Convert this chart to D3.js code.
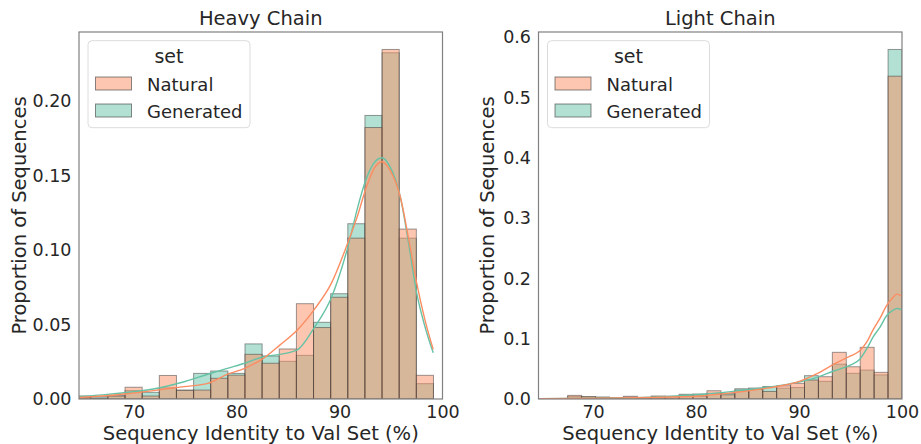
<!DOCTYPE html>
<html>
<head>
<meta charset="utf-8">
<script src="https://cdn.jsdelivr.net/npm/d3@7"></script>
<style>
  body { margin: 0; background: #fff; }
  svg { display: block; font-family: "DejaVu Sans", sans-serif; }
</style>
</head>
<body>
<svg id="chart" width="921" height="444"></svg>
<script>
// ---- data -------------------------------------------------------------
const setNames = ["Natural", "Generated"];
const setColors = { Natural: "#fc8d62", Generated: "#66c2a5" };

const xTicks = [70, 80, 90, 100];
const heavyYTicks = [0, 0.05, 0.10, 0.15, 0.20];
const lightYTicks = [0, 0.1, 0.2, 0.3, 0.4, 0.5, 0.6];

// heavy chain histogram (proportion per bin)
const heavyBinStart = 64.18;
const heavyBinWidth = 1.664;
const heavyNatural = [0.0010, 0.0006, 0.0020, 0.0079, 0.0020, 0.0158, 0.0058, 0.0060, 0.0139, 0.0160, 0.0300,
                      0.0240, 0.0336, 0.0640, 0.0480, 0.0683, 0.1080, 0.1823, 0.2347, 0.1141, 0.0159];
const heavyGenerated = [0.0020, 0.0016, 0.0022, 0.0056, 0.0045, 0.0075, 0.0060, 0.0172, 0.0188, 0.0172, 0.0370,
                        0.0289, 0.0253, 0.0293, 0.0515, 0.0707, 0.1177, 0.1904, 0.2325, 0.1080, 0.0103];

// heavy chain density curves
const heavyKdeX = [64.2, 67.0, 69.1, 72.3, 74.9, 77.2, 79.1, 80.8, 82.6, 84.2, 85.9, 87.5,
                   89.2, 90.9, 91.7, 92.5, 93.3, 94.1, 94.9, 95.9, 96.7, 97.5, 98.3, 99.1];
const heavyKdeNatural = [0.0008, 0.0020, 0.0034, 0.0060, 0.0083, 0.0105, 0.0166, 0.0206, 0.0273, 0.0362, 0.0463, 0.0597,
                         0.0776, 0.1067, 0.1220, 0.1400, 0.1540, 0.1593, 0.1537, 0.1358, 0.1080, 0.0776, 0.0530, 0.0333];
const heavyKdeGenerated = [0.0015, 0.0028, 0.0042, 0.0072, 0.0116, 0.0166, 0.0206, 0.0240, 0.0284, 0.0300, 0.0330, 0.0475,
                           0.0680, 0.1045, 0.1270, 0.1460, 0.1580, 0.1620, 0.1560, 0.1358, 0.1050, 0.0709, 0.0485, 0.0310];

// light chain histogram (proportion per bin)
const lightBinStart = 64.83;
const lightBinWidth = 1.3527;
const lightNatural = [0.0005, 0.0005, 0.0060, 0.0040, 0.0030, 0.0017, 0.0045, 0.0022, 0.0040, 0.0040, 0.0060, 0.0050, 0.0137,
                      0.0070, 0.0147, 0.0160, 0.0125, 0.0220, 0.0260, 0.0315, 0.0370, 0.0774, 0.0535, 0.0857, 0.0442, 0.5354];
const lightGenerated = [0.0002, 0.0005, 0.0040, 0.0035, 0.0030, 0.0017, 0.0030, 0.0022, 0.0050, 0.0045, 0.0078, 0.0083, 0.0094,
                        0.0094, 0.0170, 0.0182, 0.0207, 0.0180, 0.0190, 0.0387, 0.0293, 0.0578, 0.0426, 0.0480, 0.0400, 0.5797];

// light chain density curves
const lightKdeX = [64.85, 70.67, 75.5, 80.4, 83.6, 86.9, 90.1, 91.75, 93.3, 94.95, 95.9, 96.6, 97.2, 97.9, 98.5, 99.1, 99.5, 100];
const lightKdeNatural = [0.0005, 0.0015, 0.0025, 0.0050, 0.0105, 0.0180, 0.0295, 0.0420, 0.0570, 0.0710, 0.0800, 0.0950,
                         0.1150, 0.1350, 0.1550, 0.1680, 0.1740, 0.1700];
const lightKdeGenerated = [0.0003, 0.0015, 0.0030, 0.0075, 0.0127, 0.0194, 0.0285, 0.0360, 0.0460, 0.0560, 0.0660, 0.0840,
                           0.1030, 0.1200, 0.1380, 0.1470, 0.1500, 0.1480];

const xLimits = [64.7, 100];

// ---- drawing ----------------------------------------------------------
const svg = d3.select("#chart");
const textColor = "#262626";

const panels = [
  {
    title: "Heavy Chain", left: 79, right: 442.5, yTicks: heavyYTicks, yFmt: ".2f",
    binStart: heavyBinStart, binWidth: heavyBinWidth,
    hist: { Natural: heavyNatural, Generated: heavyGenerated },
    kdeX: heavyKdeX, kde: { Natural: heavyKdeNatural, Generated: heavyKdeGenerated }
  },
  {
    title: "Light Chain", left: 538.5, right: 902, yTicks: lightYTicks, yFmt: ".1f",
    binStart: lightBinStart, binWidth: lightBinWidth,
    hist: { Natural: lightNatural, Generated: lightGenerated },
    kdeX: lightKdeX, kde: { Natural: lightKdeNatural, Generated: lightKdeGenerated }
  }
];

const plotTop = 32, plotBottom = 399;

panels.forEach((p, pi) => {
  const g = svg.append("g");
  const maxBar = d3.max([...p.hist.Natural, ...p.hist.Generated]);
  const x = d3.scaleLinear().domain(xLimits).range([p.left, p.right]);
  const y = d3.scaleLinear().domain([0, maxBar * 1.05]).range([plotBottom, plotTop]);

  const clipId = "clip" + pi;
  svg.append("clipPath").attr("id", clipId)
    .append("rect").attr("x", p.left).attr("y", plotTop)
    .attr("width", p.right - p.left).attr("height", plotBottom - plotTop);

  const plot = g.append("g").attr("clip-path", `url(#${clipId})`);

  // bars: Generated underneath, Natural layered on top
  ["Generated", "Natural"].forEach(name => {
    plot.append("g").selectAll("rect")
      .data(p.hist[name])
      .join("rect")
      .attr("x", (d, i) => x(p.binStart + i * p.binWidth))
      .attr("width", (d, i) => x(p.binStart + (i + 1) * p.binWidth) - x(p.binStart + i * p.binWidth))
      .attr("y", d => y(d))
      .attr("height", d => y(0) - y(d))
      .attr("fill", setColors[name])
      .attr("fill-opacity", 0.5)
      .attr("stroke", "#3a3a3a")
      .attr("stroke-opacity", 0.5)
      .attr("stroke-width", 1);
  });

  // density curves
  const line = d3.line()
    .x(d => x(d[0]))
    .y(d => y(d[1]))
    .curve(d3.curveMonotoneX);
  ["Generated", "Natural"].forEach(name => {
    plot.append("path")
      .datum(p.kdeX.map((v, i) => [v, p.kde[name][i]]))
      .attr("d", line)
      .attr("fill", "none")
      .attr("stroke", setColors[name])
      .attr("stroke-width", 1.4);
  });

  // frame
  g.append("rect")
    .attr("x", p.left).attr("y", plotTop)
    .attr("width", p.right - p.left).attr("height", plotBottom - plotTop)
    .attr("fill", "none").attr("stroke", "#808080").attr("stroke-width", 1.2);

  // axes
  const xAxis = g.append("g")
    .attr("transform", `translate(0,${plotBottom})`)
    .call(d3.axisBottom(x).tickValues(xTicks).tickSize(0).tickPadding(7).tickFormat(d3.format("d")));
  xAxis.select(".domain").remove();
  xAxis.selectAll("text").attr("font-size", 17.5).attr("fill", textColor)
    .attr("font-family", "DejaVu Sans, sans-serif");

  const yAxis = g.append("g")
    .attr("transform", `translate(${p.left},0)`)
    .call(d3.axisLeft(y).tickValues(p.yTicks).tickSize(0).tickPadding(7.5).tickFormat(d3.format(p.yFmt)));
  yAxis.select(".domain").remove();
  yAxis.selectAll("text").attr("font-size", 17.5).attr("fill", textColor)
    .attr("font-family", "DejaVu Sans, sans-serif");

  // labels
  const cx = (p.left + p.right) / 2;
  g.append("text")
    .attr("x", cx).attr("y", 25)
    .attr("text-anchor", "middle").attr("font-size", 19.5).attr("fill", textColor)
    .text(p.title);
  g.append("text")
    .attr("x", cx).attr("y", 440)
    .attr("text-anchor", "middle").attr("font-size", 19.5).attr("fill", textColor)
    .text("Sequency Identity to Val Set (%)");
  const yLabelX = p.left - (pi === 0 ? 53 : 45);
  g.append("text")
    .attr("transform", `translate(${yLabelX},${(plotTop + plotBottom) / 2}) rotate(-90)`)
    .attr("text-anchor", "middle").attr("font-size", 19.5).attr("fill", textColor)
    .text("Proportion of Sequences");

  // legend
  const lg = g.append("g").attr("transform", `translate(${p.left + 9},40.7)`);
  lg.append("rect")
    .attr("width", 162).attr("height", 87).attr("rx", 4)
    .attr("fill", "#fff").attr("fill-opacity", 0.8)
    .attr("stroke", "#dcdcdc").attr("stroke-width", 1);
  lg.append("text")
    .attr("x", 81).attr("y", 22.6)
    .attr("text-anchor", "middle").attr("font-size", 19).attr("fill", textColor)
    .text("set");
  setNames.forEach((name, i) => {
    const row = lg.append("g").attr("transform", `translate(0,${36.3 + i * 27})`);
    row.append("rect")
      .attr("x", 7.5).attr("y", 0).attr("width", 36).attr("height", 13)
      .attr("fill", setColors[name]).attr("fill-opacity", 0.5)
      .attr("stroke", "#3a3a3a").attr("stroke-opacity", 0.6).attr("stroke-width", 1);
    row.append("text")
      .attr("x", 59).attr("y", 13.7)
      .attr("font-size", 18).attr("fill", textColor)
      .text(name);
  });
});
</script>
</body>
</html>
